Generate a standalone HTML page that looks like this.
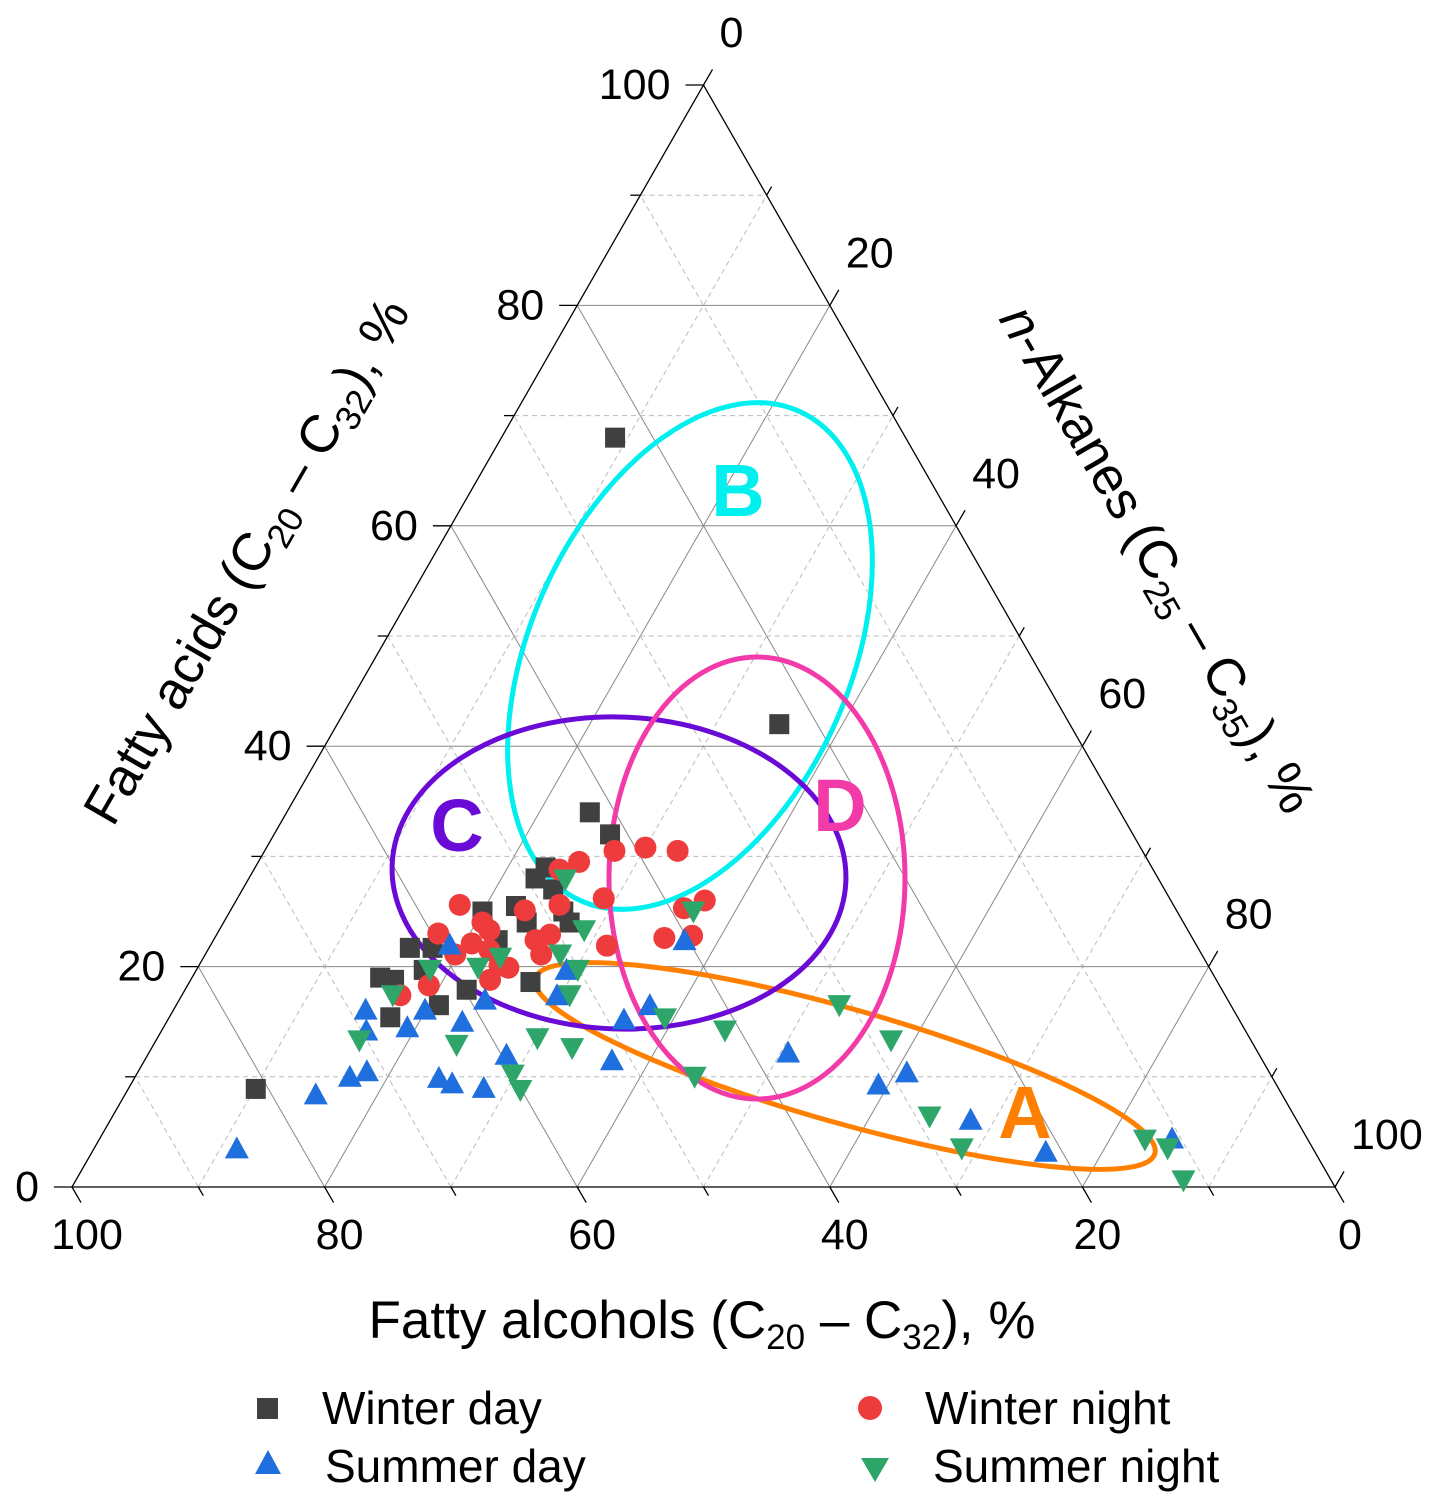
<!DOCTYPE html>
<html><head><meta charset="utf-8"><style>
html,body{margin:0;padding:0;background:#fff;}
svg{display:block;font-family:"Liberation Sans",Arial,sans-serif;}
</style></head><body>
<svg id="chart" width="1437" height="1504" viewBox="0 0 1437 1504" xmlns="http://www.w3.org/2000/svg">
<g id="grid"></g>
<g id="ellipses">
 <ellipse cx="845" cy="1066" rx="322" ry="57" transform="rotate(15.8 845 1066)" fill="none" stroke="#ff7f00" stroke-width="5"/>
 <ellipse cx="690" cy="656" rx="268" ry="160" transform="rotate(-66 690 656)" fill="none" stroke="#00f0f0" stroke-width="5"/>
 <ellipse cx="619" cy="873" rx="227" ry="156" transform="rotate(2 619 873)" fill="none" stroke="#6a0ad6" stroke-width="5"/>
 <ellipse cx="757" cy="878" rx="148" ry="221" fill="none" stroke="#f23aa8" stroke-width="5"/>
</g>
<g id="points"></g>
<g font-weight="bold" font-size="74">
 <text x="1025" y="1138" text-anchor="middle" fill="#ff7f00">A</text>
 <text x="738" y="516" text-anchor="middle" fill="#00f0f0">B</text>
 <text x="457" y="851" text-anchor="middle" fill="#6a0ad6">C</text>
 <text x="840" y="831" text-anchor="middle" fill="#f23aa8">D</text>
</g>
<g id="ticklabels" font-size="43" fill="#000"></g>
<text x="702" y="1338" text-anchor="middle" font-size="53">Fatty alcohols (C<tspan font-size="35" dy="11">20</tspan><tspan dy="-11"> – C</tspan><tspan font-size="35" dy="11">32</tspan><tspan dy="-11">), %</tspan></text>
<text transform="translate(262,570) rotate(-60)" text-anchor="middle" font-size="53">Fatty acids (C<tspan font-size="35" dy="11">20</tspan><tspan dy="-11"> – C</tspan><tspan font-size="35" dy="11">32</tspan><tspan dy="-11">), %</tspan></text>
<text transform="translate(1142,568) rotate(60)" text-anchor="middle" font-size="53"><tspan font-style="italic">n</tspan>-Alkanes (C<tspan font-size="35" dy="11">25</tspan><tspan dy="-11"> – C</tspan><tspan font-size="35" dy="11">35</tspan><tspan dy="-11">), %</tspan></text>
<g font-size="46">
 <g><rect x="257" y="1398" width="21" height="21" fill="#404040"/><text x="322" y="1424">Winter day</text></g>
 <g><polygon points="268,1450 281,1474 255,1474" fill="#1f6fde"/><text x="325" y="1482">Summer day</text></g>
 <g><circle cx="870" cy="1408" r="12" fill="#ee3b3b"/><text x="925" y="1424">Winter night</text></g>
 <g><polygon points="861,1458 889,1458 875,1482" fill="#2ea66a"/><text x="933" y="1482">Summer night</text></g>
</g>
</svg>
<script>
// Data: [fatty acids %, n-alkanes %]; alcohols = 100 - acids - alkanes
const winterDayAcids=[68,42,34,32,29,28,27,25.5,25,22.4,24,25,21.7,21.7,19,18.8,19.7,16.5,15.4,17.9,18.6,8.9,24];
const winterDayAlkanes=[9,35,24,26.6,23,22.7,24.6,22.4,20,22.5,24,26.4,15.9,17.7,14.9,16.1,18,20.8,17.5,22.3,27,10.1,27.4];
const winterNightAcids=[30.5,30.8,30.5,29.5,28.8,26.2,26,25.3,22.8,22.6,21.9,25.6,23,24,23.3,22.1,21.1,21.5,20.1,19.9,18.8,18.3,17.4,22.4,21.1,22.9,25.1,25.6];
const winterNightAlkanes=[27.7,30,32.7,25.4,24.2,29,37.1,35.8,37.7,35.6,31.4,17.9,17.5,20.5,21.4,20.6,19.8,22.3,23.8,24.6,23.7,19.1,17.3,25.5,26.6,26.4,23.3,25.8];
const summerDayAcids=[3.5,8.4,10,10.5,16.1,14.2,14.5,16.1,22,15,9.9,9.4,9,12,17,17.4,19.7,11.5,15.2,16.5,22.4,12.2,9.3,10.4,6.1,3.2,4.4];
const summerDayAlkanes=[11.3,15.1,17,18.1,15.2,16.2,19.3,19.9,18.9,23.4,24.1,25.4,28.1,28.4,24.2,29.7,29.3,37,36.1,37.5,37.3,50.6,59.2,60.9,68.1,75.5,84.9];
const summerNightAcids=[27.9,23.3,25,19.7,17.4,13.5,12.6,10.2,8.8,12.9,13.3,17.4,19.7,19.9,20.8,21.1,15.3,14.2,10,16.5,13.3,6.4,3.5,4.3,3.5,0.6];
const summerNightAlkanes=[25.1,28.9,36.7,30.2,30.7,30.1,33.3,29.8,31.1,24,16.1,16.7,18.5,22.2,23.5,28.1,39.3,44.6,44.3,52.5,58.2,64.7,68.7,82.8,85,87.7];
const tickValues=[0,20,40,60,80,100];

const NS="http://www.w3.org/2000/svg";
const X0=72,W=1263,Y0=1187,H=1102;
function px(a,c){return X0+W*(c+a/2)/100;}
function py(a){return Y0-H*a/100;}
function mk(tag,attrs,parent){const e=document.createElementNS(NS,tag);for(const k in attrs)e.setAttribute(k,attrs[k]);parent.appendChild(e);return e;}

const grid=document.getElementById('grid');
for(let k=10;k<100;k+=10){
  const major=k%20===0;
  const st={stroke:major?'#888':'#bbb','stroke-width':1,'stroke-dasharray':major?'':'5,4',fill:'none'};
  let l=mk('line',Object.assign({x1:px(k,0),y1:py(k),x2:px(k,100-k),y2:py(k)},st),grid);
  
  
  l=mk('line',Object.assign({x1:px(0,k),y1:py(0),x2:px(100-k,k),y2:py(100-k)},st),grid);
  
  
  l=mk('line',Object.assign({x1:px(0,100-k),y1:py(0),x2:px(100-k,0),y2:py(100-k)},st),grid);
  
  
}
const fr=mk('polygon',{points:`${px(0,0)},${py(0)} ${px(0,100)},${py(0)} ${px(100,0)},${py(100)}`,fill:'none',stroke:'#000','stroke-width':1.3},grid);


for(let k=0;k<=100;k+=10){
  const len=k%20===0?18:10;
  let t=mk('line',{x1:px(k,0),y1:py(k),x2:px(k,0)-len,y2:py(k),stroke:'#000','stroke-width':1.3},grid);
  
  
  t=mk('line',{x1:px(100-k,k),y1:py(100-k),x2:px(100-k,k)+len*0.5,y2:py(100-k)-len*0.866,stroke:'#000','stroke-width':1.3},grid);
  
  
  t=mk('line',{x1:px(0,100-k),y1:py(0),x2:px(0,100-k)+len*0.5,y2:py(0)+len*0.866,stroke:'#000','stroke-width':1.3},grid);
  
  
}
const tl=document.getElementById('ticklabels');
tickValues.forEach(v=>{
  let t=mk('text',{x:px(v,0)-33,y:py(v)+14,'text-anchor':'end'},tl);
  t.textContent=v;
  
  
  t=mk('text',{x:px(100-v,v)+16,y:py(100-v)-38,'text-anchor':'start'},tl);
  t.textContent=v;
  
  
  t=mk('text',{x:px(0,100-v)+15,y:py(0)+62,'text-anchor':'middle'},tl);
  t.textContent=v;
  
  
});

const pts=document.getElementById('points');
function draw(acids,alks,shape,color,name){
  acids.forEach((a,i)=>{
    const x=px(a,alks[i]),y=py(a);let e;
    if(shape==='sq')e=mk('rect',{x:x-10,y:y-10,width:20,height:20,fill:color},pts);
    else if(shape==='ci')e=mk('circle',{cx:x,cy:y,r:11,fill:color},pts);
    else if(shape==='up')e=mk('polygon',{points:`${x},${y-12} ${x+12},${y+10} ${x-12},${y+10}`,fill:color},pts);
    else e=mk('polygon',{points:`${x-12},${y-10} ${x+12},${y-10} ${x},${y+12}`,fill:color},pts);
    
    
  });
}
draw(winterDayAcids,winterDayAlkanes,'sq','#404040','point-winter-day');
draw(winterNightAcids,winterNightAlkanes,'ci','#ee3b3b','point-winter-night');
draw(summerDayAcids,summerDayAlkanes,'up','#1f6fde','point-summer-day');
draw(summerNightAcids,summerNightAlkanes,'dn','#2ea66a','point-summer-night');
</script>
</body></html>
